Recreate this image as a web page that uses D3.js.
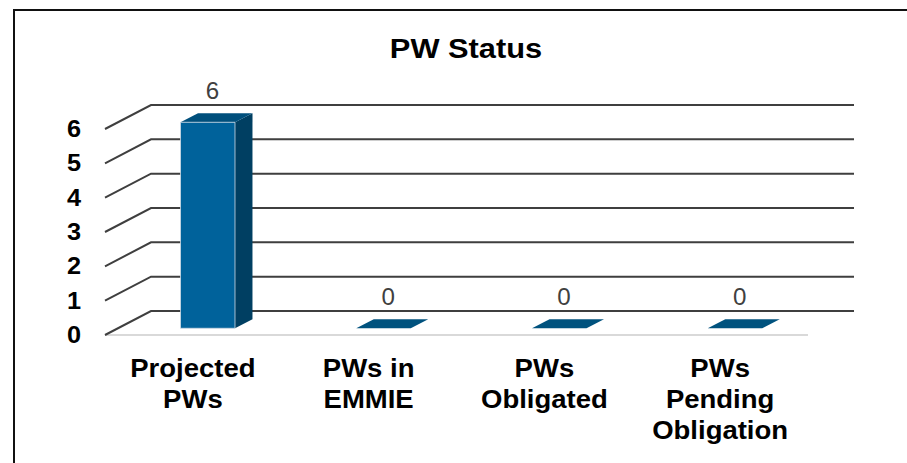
<!DOCTYPE html>
<html>
<head>
<meta charset="utf-8">
<script src="https://cdn.jsdelivr.net/npm/d3@7"></script>
<style>
  body { margin: 0; background: #fff; }
  svg { display: block; font-family: "Liberation Sans", Arial, sans-serif; }
</style>
</head>
<body>
<div id="chart"></div>
<script>
// chart data
const title = "PW Status";
const categories = ["Projected PWs", "PWs in EMMIE", "PWs Obligated", "PWs Pending Obligation"];
const categoryLines = [["Projected", "PWs"], ["PWs in", "EMMIE"], ["PWs", "Obligated"], ["PWs", "Pending", "Obligation"]];
const values = [6, 0, 0, 0];
const yTicks = [0, 1, 2, 3, 4, 5, 6];

const W = 907, H = 463;

// front plane of the 3d box, plus the depth shift to the back wall
const front = { left: 105, right: 808, bottom: 335, top: 129 };
const depth = { dx: 46, dy: -24 };
const barDepth = [0.28, 0.66];

const svg = d3.select("#chart")
    .append("svg")
    .attr("width", W)
    .attr("height", H);

// outer frame (runs off the right and bottom edges)
svg.append("rect")
    .attr("x", 14).attr("y", 10)
    .attr("width", 1000).attr("height", 1000)
    .attr("fill", "none")
    .attr("stroke", "#111")
    .attr("stroke-width", 2);

const x = d3.scaleBand()
    .domain(categories)
    .range([front.left, front.right]);

const y = d3.scaleLinear()
    .domain([0, 6])
    .range([front.bottom, front.top]);

// project a point (px on front plane, value, depth 0..1)
function pt(px, v, d) {
    return [px + depth.dx * d, y(v) + depth.dy * d];
}

// floor front edge
svg.append("line")
    .attr("x1", front.left).attr("x2", front.right)
    .attr("y1", y(0)).attr("y2", y(0))
    .attr("stroke", "#d9d9d9")
    .attr("stroke-width", 2);

// gridlines: diagonal on the side wall, then flat across the back wall
const grid = svg.append("g");
yTicks.forEach(v => {
    const a = pt(front.left, v, 0), b = pt(front.left, v, 1), c = pt(front.right, v, 1);
    grid.append("polyline")
        .attr("points", [a, b, c].map(p => p.join(",")).join(" "))
        .attr("fill", "none")
        .attr("stroke", "#3f3f3f")
        .attr("stroke-width", 2);
});

// y tick labels
yTicks.forEach(v => {
    svg.append("g")
        .attr("transform", `translate(81, ${y(v) + 8}) scale(1.1,1)`)
        .append("text")
        .attr("text-anchor", "end")
        .style("font-size", "23px")
        .style("font-weight", "bold")
        .attr("fill", "#000")
        .text(v);
});

// bars
const barW = x.bandwidth() * 0.31;
values.forEach((v, i) => {
    const xc = x(categories[i]) + x.bandwidth() / 2 + 2;
    const x0 = xc - barW / 2, x1 = xc + barW / 2;
    const [d0, d1] = barDepth;
    const poly = (pts, fill) => svg.append("polygon")
        .attr("points", pts.map(p => p.join(",")).join(" "))
        .attr("fill", fill);

    if (v > 0) {
        // side face
        poly([pt(x1, 0, d0), pt(x1, 0, d1), pt(x1, v, d1), pt(x1, v, d0)], "#003f62");
        // top face
        poly([pt(x0, v, d0), pt(x0, v, d1), pt(x1, v, d1), pt(x1, v, d0)], "#004f7c");
        // front face
        poly([pt(x0, 0, d0), pt(x1, 0, d0), pt(x1, v, d0), pt(x0, v, d0)], "#00629b")
            .attr("stroke", "#cfdbe4").attr("stroke-width", 0.8);
    } else {
        poly([pt(x0, 0, d0), pt(x0, 0, d1), pt(x1, 0, d1), pt(x1, 0, d0)], "#00527e");
    }

    // value label above the bar
    const top = pt(xc, v, d1);
    svg.append("g")
        .attr("transform", `translate(${xc + depth.dx * (d0 + d1) / 2 - 4}, ${top[1] - 14}) scale(1.05,1)`)
        .append("text")
        .attr("text-anchor", "middle")
        .style("font-size", "23px")
        .attr("fill", "#404040")
        .text(v);
});

// category labels
categoryLines.forEach((lines, i) => {
    const g = svg.append("g")
        .attr("transform", `translate(${x(categories[i]) + x.bandwidth() / 2}, 377) scale(1.1,1)`);
    lines.forEach((ln, j) => {
        g.append("text")
            .attr("y", j * 31)
            .attr("text-anchor", "middle")
            .style("font-size", "25px")
            .style("font-weight", "bold")
            .attr("fill", "#000")
            .text(ln);
    });
});

// title
svg.append("g")
    .attr("transform", "translate(466, 58) scale(1.1,1)")
    .append("text")
    .attr("text-anchor", "middle")
    .style("font-size", "28px")
    .style("font-weight", "bold")
    .attr("fill", "#000")
    .text(title);
</script>
</body>
</html>
